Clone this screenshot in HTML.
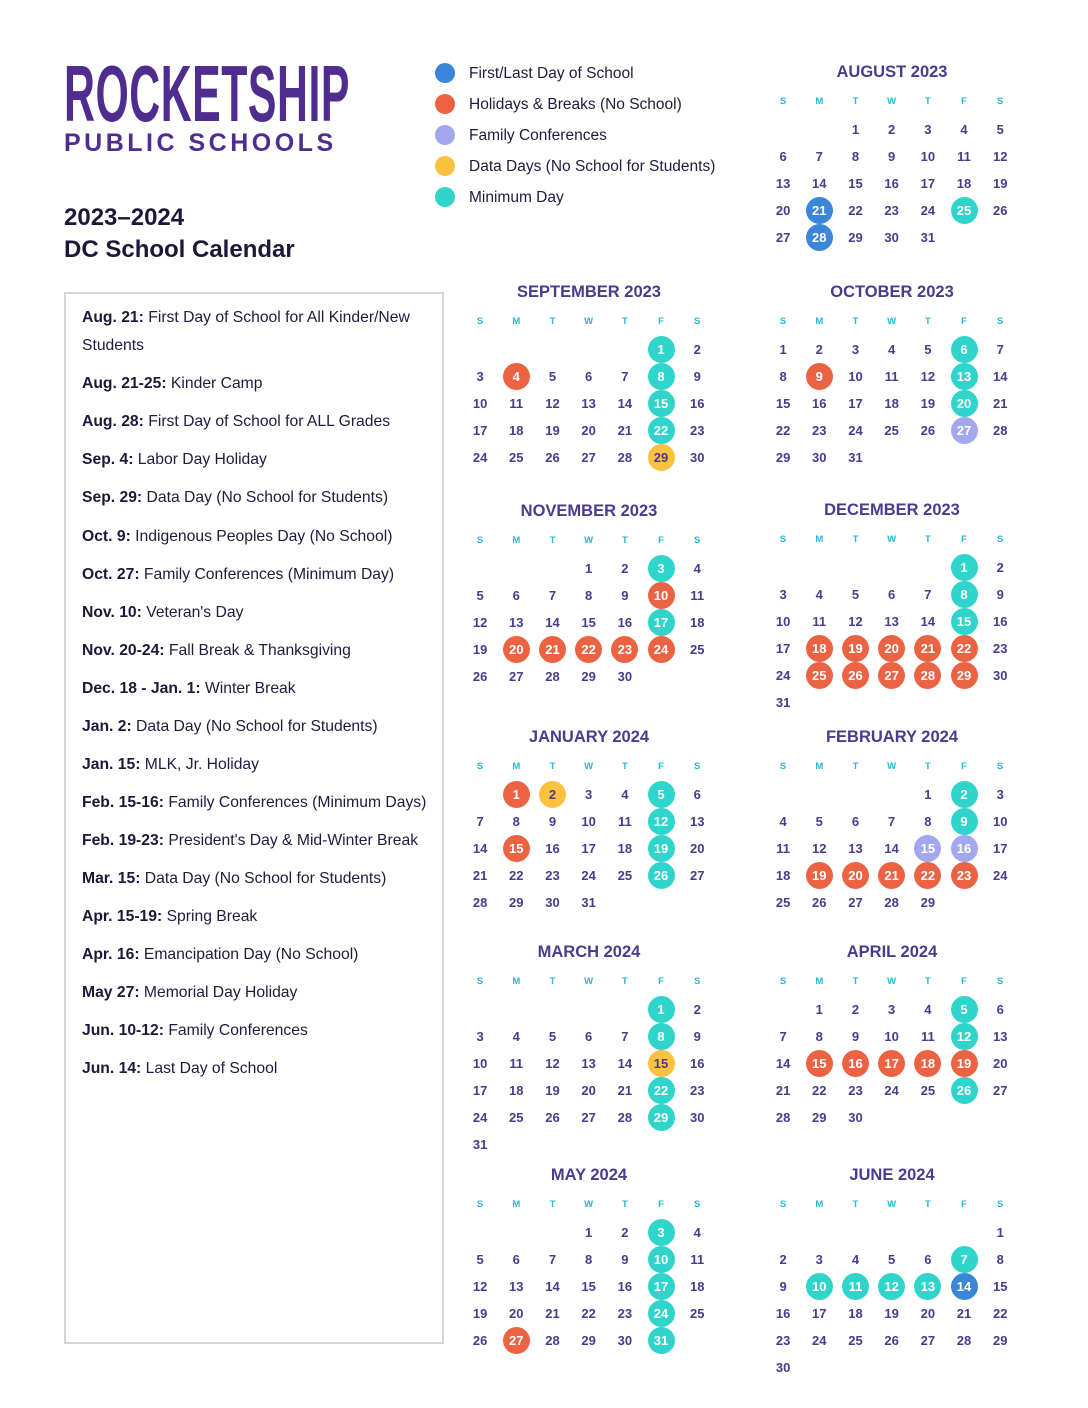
<!DOCTYPE html>
<html><head><meta charset="utf-8"><style>
*{margin:0;padding:0;box-sizing:border-box}
body{width:1088px;height:1408px;background:#fff;position:relative;font-family:"Liberation Sans",sans-serif;overflow:hidden}
.abs{position:absolute}
.logo{left:64px;top:56px;font-size:80px;font-weight:bold;color:#4f2d8f;transform:scaleX(0.535);transform-origin:left top;line-height:76px;white-space:nowrap;letter-spacing:1px}
.pub{left:64px;top:129px;font-size:25px;color:#4f2d8f;letter-spacing:3.5px;font-weight:bold;line-height:28px;white-space:nowrap}
.ttl{left:64px;font-size:24px;font-weight:bold;color:#1c1838;line-height:30px}
.leg{left:435px;font-size:15.5px;color:#1f1b3e;line-height:20px;white-space:nowrap}
.leg i{display:inline-block;width:20px;height:20px;border-radius:50%;vertical-align:middle;margin-right:14px;position:relative;top:-1px}
.box{left:64px;top:292px;width:380px;height:1052px;border:2px solid #d6d6d6}
.it{left:82px;font-size:15.7px;color:#1f1b3e;line-height:28px;white-space:nowrap}
.it b{color:#1c1838}
.m{position:absolute;width:254px}
.m h3{height:20px;line-height:20px;text-align:center;font-size:16.5px;color:#4b3a8e;font-weight:bold}
.g{display:flex;flex-wrap:wrap;width:254px}
.wk{margin-top:11px}
.w{width:36.2px;height:18px;line-height:18px;text-align:center;font-size:9.5px;font-weight:bold;color:#2bb6d6}
.ds{margin-top:4.5px}
.d{width:36.2px;height:27px;display:flex;align-items:center;justify-content:center;font-size:13px;font-weight:bold;color:#4b3a8e}
.d span{width:27px;height:27px;border-radius:50%;display:flex;align-items:center;justify-content:center;color:#fff}
.t span{background:#2fd4cb}.o span{background:#ec6344}.y span{background:#fcc13e;color:#4b3a8e}.b span{background:#3b86d8}.l span{background:#a3a7ee}
</style></head><body>
<div class="abs logo">ROCKETSHIP</div>
<div class="abs pub">PUBLIC SCHOOLS</div>
<div class="abs ttl" style="top:203px">2023–2024</div>
<div class="abs ttl" style="top:235px">DC School Calendar</div>

<div class="abs leg" style="top:64px"><i style="background:#3b86d8"></i>First/Last Day of School</div>
<div class="abs leg" style="top:95px"><i style="background:#ec6344"></i>Holidays &amp; Breaks (No School)</div>
<div class="abs leg" style="top:126px"><i style="background:#a3a7ee"></i>Family Conferences</div>
<div class="abs leg" style="top:157px"><i style="background:#fcc13e"></i>Data Days (No School for Students)</div>
<div class="abs leg" style="top:188px"><i style="background:#2fd4cb"></i>Minimum Day</div>

<div class="abs box"></div>
<div class="abs it" style="top:304px"><b>Aug. 21:</b> First Day of School for All Kinder/New</div>
<div class="abs it" style="top:332px">Students</div>
<div class="abs it" style="top:370px"><b>Aug. 21-25:</b> Kinder Camp</div>
<div class="abs it" style="top:408px"><b>Aug. 28:</b> First Day of School for ALL Grades</div>
<div class="abs it" style="top:446px"><b>Sep. 4:</b> Labor Day Holiday</div>
<div class="abs it" style="top:484px"><b>Sep. 29:</b> Data Day (No School for Students)</div>
<div class="abs it" style="top:523px"><b>Oct. 9:</b> Indigenous Peoples Day (No School)</div>
<div class="abs it" style="top:561px"><b>Oct. 27:</b> Family Conferences (Minimum Day)</div>
<div class="abs it" style="top:599px"><b>Nov. 10:</b> Veteran's Day</div>
<div class="abs it" style="top:637px"><b>Nov. 20-24:</b> Fall Break &amp; Thanksgiving</div>
<div class="abs it" style="top:675px"><b>Dec. 18 - Jan. 1:</b> Winter Break</div>
<div class="abs it" style="top:713px"><b>Jan. 2:</b> Data Day (No School for Students)</div>
<div class="abs it" style="top:751px"><b>Jan. 15:</b> MLK, Jr. Holiday</div>
<div class="abs it" style="top:789px"><b>Feb. 15-16:</b> Family Conferences (Minimum Days)</div>
<div class="abs it" style="top:827px"><b>Feb. 19-23:</b> President's Day &amp; Mid-Winter Break</div>
<div class="abs it" style="top:865px"><b>Mar. 15:</b> Data Day (No School for Students)</div>
<div class="abs it" style="top:903px"><b>Apr. 15-19:</b> Spring Break</div>
<div class="abs it" style="top:941px"><b>Apr. 16:</b> Emancipation Day (No School)</div>
<div class="abs it" style="top:979px"><b>May 27:</b> Memorial Day Holiday</div>
<div class="abs it" style="top:1017px"><b>Jun. 10-12:</b> Family Conferences</div>
<div class="abs it" style="top:1055px"><b>Jun. 14:</b> Last Day of School</div>

<!-- AUGUST -->
<div class="m" style="left:765px;top:62px"><h3>AUGUST 2023</h3>
<div class="g wk"><div class="w">S</div><div class="w">M</div><div class="w">T</div><div class="w">W</div><div class="w">T</div><div class="w">F</div><div class="w">S</div></div>
<div class="g ds"><div class="d"></div><div class="d"></div><div class="d">1</div><div class="d">2</div><div class="d">3</div><div class="d">4</div><div class="d">5</div><div class="d">6</div><div class="d">7</div><div class="d">8</div><div class="d">9</div><div class="d">10</div><div class="d">11</div><div class="d">12</div><div class="d">13</div><div class="d">14</div><div class="d">15</div><div class="d">16</div><div class="d">17</div><div class="d">18</div><div class="d">19</div><div class="d">20</div><div class="d b"><span>21</span></div><div class="d">22</div><div class="d">23</div><div class="d">24</div><div class="d t"><span>25</span></div><div class="d">26</div><div class="d">27</div><div class="d b"><span>28</span></div><div class="d">29</div><div class="d">30</div><div class="d">31</div></div></div>

<!-- SEPTEMBER -->
<div class="m" style="left:462px;top:282px"><h3>SEPTEMBER 2023</h3>
<div class="g wk"><div class="w">S</div><div class="w">M</div><div class="w">T</div><div class="w">W</div><div class="w">T</div><div class="w">F</div><div class="w">S</div></div>
<div class="g ds"><div class="d"></div><div class="d"></div><div class="d"></div><div class="d"></div><div class="d"></div><div class="d t"><span>1</span></div><div class="d">2</div><div class="d">3</div><div class="d o"><span>4</span></div><div class="d">5</div><div class="d">6</div><div class="d">7</div><div class="d t"><span>8</span></div><div class="d">9</div><div class="d">10</div><div class="d">11</div><div class="d">12</div><div class="d">13</div><div class="d">14</div><div class="d t"><span>15</span></div><div class="d">16</div><div class="d">17</div><div class="d">18</div><div class="d">19</div><div class="d">20</div><div class="d">21</div><div class="d t"><span>22</span></div><div class="d">23</div><div class="d">24</div><div class="d">25</div><div class="d">26</div><div class="d">27</div><div class="d">28</div><div class="d y"><span>29</span></div><div class="d">30</div></div></div>

<!-- OCTOBER -->
<div class="m" style="left:765px;top:282px"><h3>OCTOBER 2023</h3>
<div class="g wk"><div class="w">S</div><div class="w">M</div><div class="w">T</div><div class="w">W</div><div class="w">T</div><div class="w">F</div><div class="w">S</div></div>
<div class="g ds"><div class="d">1</div><div class="d">2</div><div class="d">3</div><div class="d">4</div><div class="d">5</div><div class="d t"><span>6</span></div><div class="d">7</div><div class="d">8</div><div class="d o"><span>9</span></div><div class="d">10</div><div class="d">11</div><div class="d">12</div><div class="d t"><span>13</span></div><div class="d">14</div><div class="d">15</div><div class="d">16</div><div class="d">17</div><div class="d">18</div><div class="d">19</div><div class="d t"><span>20</span></div><div class="d">21</div><div class="d">22</div><div class="d">23</div><div class="d">24</div><div class="d">25</div><div class="d">26</div><div class="d l"><span>27</span></div><div class="d">28</div><div class="d">29</div><div class="d">30</div><div class="d">31</div></div></div>

<!-- NOVEMBER -->
<div class="m" style="left:462px;top:501px"><h3>NOVEMBER 2023</h3>
<div class="g wk"><div class="w">S</div><div class="w">M</div><div class="w">T</div><div class="w">W</div><div class="w">T</div><div class="w">F</div><div class="w">S</div></div>
<div class="g ds"><div class="d"></div><div class="d"></div><div class="d"></div><div class="d">1</div><div class="d">2</div><div class="d t"><span>3</span></div><div class="d">4</div><div class="d">5</div><div class="d">6</div><div class="d">7</div><div class="d">8</div><div class="d">9</div><div class="d o"><span>10</span></div><div class="d">11</div><div class="d">12</div><div class="d">13</div><div class="d">14</div><div class="d">15</div><div class="d">16</div><div class="d t"><span>17</span></div><div class="d">18</div><div class="d">19</div><div class="d o"><span>20</span></div><div class="d o"><span>21</span></div><div class="d o"><span>22</span></div><div class="d o"><span>23</span></div><div class="d o"><span>24</span></div><div class="d">25</div><div class="d">26</div><div class="d">27</div><div class="d">28</div><div class="d">29</div><div class="d">30</div></div></div>

<!-- DECEMBER -->
<div class="m" style="left:765px;top:500px"><h3>DECEMBER 2023</h3>
<div class="g wk"><div class="w">S</div><div class="w">M</div><div class="w">T</div><div class="w">W</div><div class="w">T</div><div class="w">F</div><div class="w">S</div></div>
<div class="g ds"><div class="d"></div><div class="d"></div><div class="d"></div><div class="d"></div><div class="d"></div><div class="d t"><span>1</span></div><div class="d">2</div><div class="d">3</div><div class="d">4</div><div class="d">5</div><div class="d">6</div><div class="d">7</div><div class="d t"><span>8</span></div><div class="d">9</div><div class="d">10</div><div class="d">11</div><div class="d">12</div><div class="d">13</div><div class="d">14</div><div class="d t"><span>15</span></div><div class="d">16</div><div class="d">17</div><div class="d o"><span>18</span></div><div class="d o"><span>19</span></div><div class="d o"><span>20</span></div><div class="d o"><span>21</span></div><div class="d o"><span>22</span></div><div class="d">23</div><div class="d">24</div><div class="d o"><span>25</span></div><div class="d o"><span>26</span></div><div class="d o"><span>27</span></div><div class="d o"><span>28</span></div><div class="d o"><span>29</span></div><div class="d">30</div><div class="d">31</div></div></div>

<!-- JANUARY -->
<div class="m" style="left:462px;top:727px"><h3>JANUARY 2024</h3>
<div class="g wk"><div class="w">S</div><div class="w">M</div><div class="w">T</div><div class="w">W</div><div class="w">T</div><div class="w">F</div><div class="w">S</div></div>
<div class="g ds"><div class="d"></div><div class="d o"><span>1</span></div><div class="d y"><span>2</span></div><div class="d">3</div><div class="d">4</div><div class="d t"><span>5</span></div><div class="d">6</div><div class="d">7</div><div class="d">8</div><div class="d">9</div><div class="d">10</div><div class="d">11</div><div class="d t"><span>12</span></div><div class="d">13</div><div class="d">14</div><div class="d o"><span>15</span></div><div class="d">16</div><div class="d">17</div><div class="d">18</div><div class="d t"><span>19</span></div><div class="d">20</div><div class="d">21</div><div class="d">22</div><div class="d">23</div><div class="d">24</div><div class="d">25</div><div class="d t"><span>26</span></div><div class="d">27</div><div class="d">28</div><div class="d">29</div><div class="d">30</div><div class="d">31</div></div></div>

<!-- FEBRUARY -->
<div class="m" style="left:765px;top:727px"><h3>FEBRUARY 2024</h3>
<div class="g wk"><div class="w">S</div><div class="w">M</div><div class="w">T</div><div class="w">W</div><div class="w">T</div><div class="w">F</div><div class="w">S</div></div>
<div class="g ds"><div class="d"></div><div class="d"></div><div class="d"></div><div class="d"></div><div class="d">1</div><div class="d t"><span>2</span></div><div class="d">3</div><div class="d">4</div><div class="d">5</div><div class="d">6</div><div class="d">7</div><div class="d">8</div><div class="d t"><span>9</span></div><div class="d">10</div><div class="d">11</div><div class="d">12</div><div class="d">13</div><div class="d">14</div><div class="d l"><span>15</span></div><div class="d l"><span>16</span></div><div class="d">17</div><div class="d">18</div><div class="d o"><span>19</span></div><div class="d o"><span>20</span></div><div class="d o"><span>21</span></div><div class="d o"><span>22</span></div><div class="d o"><span>23</span></div><div class="d">24</div><div class="d">25</div><div class="d">26</div><div class="d">27</div><div class="d">28</div><div class="d">29</div></div></div>

<!-- MARCH -->
<div class="m" style="left:462px;top:942px"><h3>MARCH 2024</h3>
<div class="g wk"><div class="w">S</div><div class="w">M</div><div class="w">T</div><div class="w">W</div><div class="w">T</div><div class="w">F</div><div class="w">S</div></div>
<div class="g ds"><div class="d"></div><div class="d"></div><div class="d"></div><div class="d"></div><div class="d"></div><div class="d t"><span>1</span></div><div class="d">2</div><div class="d">3</div><div class="d">4</div><div class="d">5</div><div class="d">6</div><div class="d">7</div><div class="d t"><span>8</span></div><div class="d">9</div><div class="d">10</div><div class="d">11</div><div class="d">12</div><div class="d">13</div><div class="d">14</div><div class="d y"><span>15</span></div><div class="d">16</div><div class="d">17</div><div class="d">18</div><div class="d">19</div><div class="d">20</div><div class="d">21</div><div class="d t"><span>22</span></div><div class="d">23</div><div class="d">24</div><div class="d">25</div><div class="d">26</div><div class="d">27</div><div class="d">28</div><div class="d t"><span>29</span></div><div class="d">30</div><div class="d">31</div></div></div>

<!-- APRIL -->
<div class="m" style="left:765px;top:942px"><h3>APRIL 2024</h3>
<div class="g wk"><div class="w">S</div><div class="w">M</div><div class="w">T</div><div class="w">W</div><div class="w">T</div><div class="w">F</div><div class="w">S</div></div>
<div class="g ds"><div class="d"></div><div class="d">1</div><div class="d">2</div><div class="d">3</div><div class="d">4</div><div class="d t"><span>5</span></div><div class="d">6</div><div class="d">7</div><div class="d">8</div><div class="d">9</div><div class="d">10</div><div class="d">11</div><div class="d t"><span>12</span></div><div class="d">13</div><div class="d">14</div><div class="d o"><span>15</span></div><div class="d o"><span>16</span></div><div class="d o"><span>17</span></div><div class="d o"><span>18</span></div><div class="d o"><span>19</span></div><div class="d">20</div><div class="d">21</div><div class="d">22</div><div class="d">23</div><div class="d">24</div><div class="d">25</div><div class="d t"><span>26</span></div><div class="d">27</div><div class="d">28</div><div class="d">29</div><div class="d">30</div></div></div>

<!-- MAY -->
<div class="m" style="left:462px;top:1165px"><h3>MAY 2024</h3>
<div class="g wk"><div class="w">S</div><div class="w">M</div><div class="w">T</div><div class="w">W</div><div class="w">T</div><div class="w">F</div><div class="w">S</div></div>
<div class="g ds"><div class="d"></div><div class="d"></div><div class="d"></div><div class="d">1</div><div class="d">2</div><div class="d t"><span>3</span></div><div class="d">4</div><div class="d">5</div><div class="d">6</div><div class="d">7</div><div class="d">8</div><div class="d">9</div><div class="d t"><span>10</span></div><div class="d">11</div><div class="d">12</div><div class="d">13</div><div class="d">14</div><div class="d">15</div><div class="d">16</div><div class="d t"><span>17</span></div><div class="d">18</div><div class="d">19</div><div class="d">20</div><div class="d">21</div><div class="d">22</div><div class="d">23</div><div class="d t"><span>24</span></div><div class="d">25</div><div class="d">26</div><div class="d o"><span>27</span></div><div class="d">28</div><div class="d">29</div><div class="d">30</div><div class="d t"><span>31</span></div></div></div>

<!-- JUNE -->
<div class="m" style="left:765px;top:1165px"><h3>JUNE 2024</h3>
<div class="g wk"><div class="w">S</div><div class="w">M</div><div class="w">T</div><div class="w">W</div><div class="w">T</div><div class="w">F</div><div class="w">S</div></div>
<div class="g ds"><div class="d"></div><div class="d"></div><div class="d"></div><div class="d"></div><div class="d"></div><div class="d"></div><div class="d">1</div><div class="d">2</div><div class="d">3</div><div class="d">4</div><div class="d">5</div><div class="d">6</div><div class="d t"><span>7</span></div><div class="d">8</div><div class="d">9</div><div class="d t"><span>10</span></div><div class="d t"><span>11</span></div><div class="d t"><span>12</span></div><div class="d t"><span>13</span></div><div class="d b"><span>14</span></div><div class="d">15</div><div class="d">16</div><div class="d">17</div><div class="d">18</div><div class="d">19</div><div class="d">20</div><div class="d">21</div><div class="d">22</div><div class="d">23</div><div class="d">24</div><div class="d">25</div><div class="d">26</div><div class="d">27</div><div class="d">28</div><div class="d">29</div><div class="d">30</div></div></div>
</body></html>
